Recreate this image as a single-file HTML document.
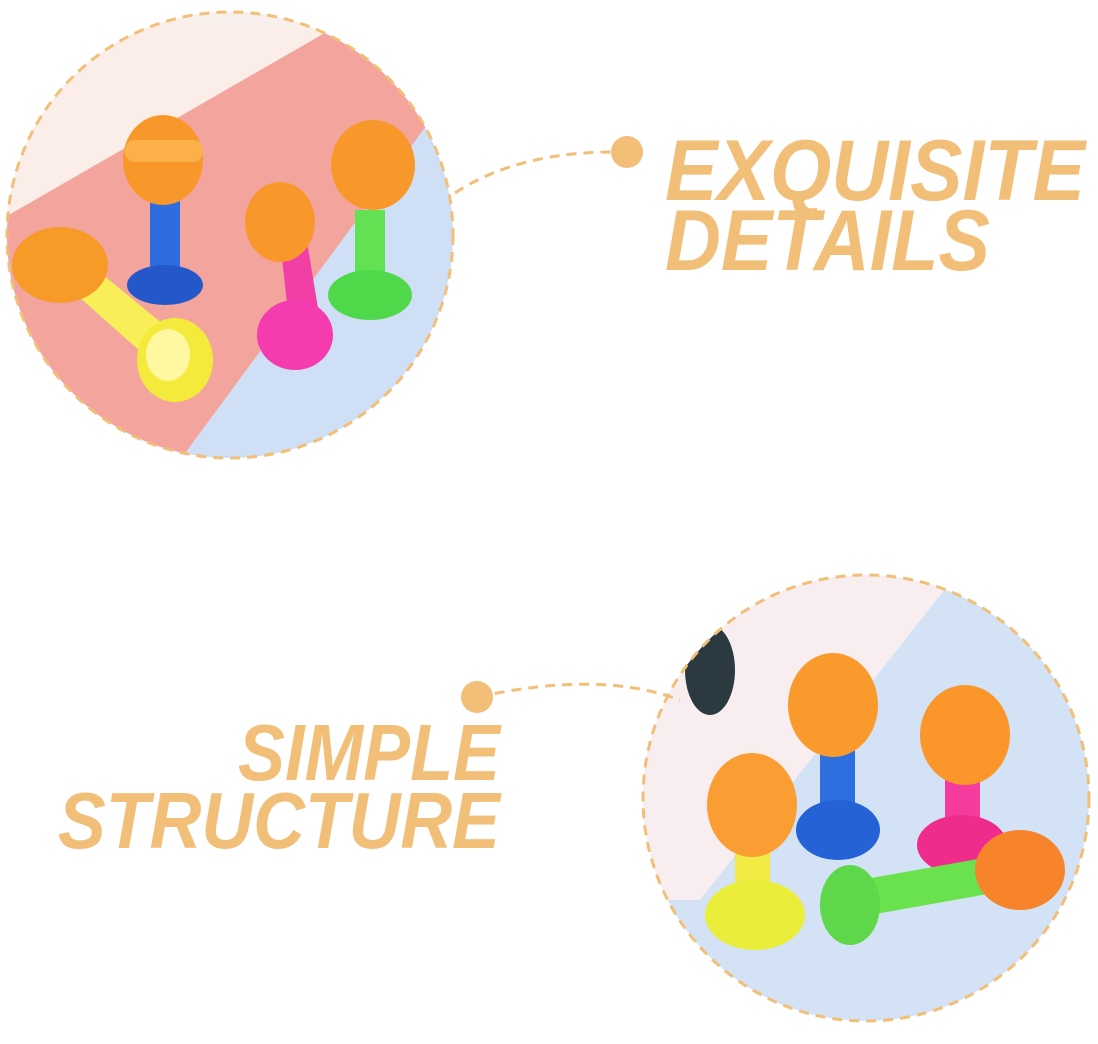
<!DOCTYPE html>
<html><head><style>html,body{margin:0;padding:0;background:#fff;width:1098px;height:1044px;overflow:hidden}</style></head>
<body>
<svg width="1098" height="1044" viewBox="0 0 1098 1044" xmlns="http://www.w3.org/2000/svg">
<defs>
<clipPath id="c1"><circle cx="230" cy="235" r="223"/></clipPath>
<clipPath id="c2"><circle cx="866" cy="798" r="223"/></clipPath>
</defs>
<!-- circle 1 -->
<g clip-path="url(#c1)">
<rect x="0" y="0" width="460" height="460" fill="#cfe0f6"/>
<polygon points="0,0 340,0 460,80 180,460 0,460" fill="#f3a49c"/>
<polygon points="0,40 300,0 330,30 0,220" fill="#fbeee8"/>
<polygon points="0,0 330,0 330,30 0,10" fill="#f7f0ec"/>
<!-- yellow toy -->
<polygon points="60,280 85,260 170,330 150,360" fill="#f8ef58"/>
<ellipse cx="175" cy="360" rx="38" ry="42" fill="#f4ea3c"/>
<ellipse cx="168" cy="355" rx="22" ry="26" fill="#fff8a0"/>
<ellipse cx="60" cy="265" rx="48" ry="38" fill="#f79a28"/>
<!-- blue toy -->
<rect x="150" y="195" width="30" height="80" fill="#2d6de0"/>
<ellipse cx="165" cy="285" rx="38" ry="20" fill="#2458c8"/>
<ellipse cx="163" cy="160" rx="40" ry="45" fill="#f9982a"/>
<rect x="125" y="140" width="78" height="22" rx="10" fill="#fbb04a"/>
<!-- pink toy -->
<polygon points="280,240 305,230 320,320 290,330" fill="#f23fa6"/>
<ellipse cx="295" cy="335" rx="38" ry="35" fill="#f53cae"/>
<ellipse cx="280" cy="222" rx="35" ry="40" fill="#f8972a"/>
<!-- green toy -->
<rect x="355" y="210" width="30" height="70" fill="#62e252"/>
<ellipse cx="370" cy="295" rx="42" ry="25" fill="#4fd94a"/>
<ellipse cx="373" cy="165" rx="42" ry="45" fill="#f9982a"/>
</g>
<circle cx="230" cy="235" r="223" fill="none" stroke="#f2bf78" stroke-width="3" stroke-dasharray="10 7"/>
<!-- circle 2 -->
<g clip-path="url(#c2)">
<rect x="630" y="570" width="480" height="460" fill="#d3e2f5"/>
<polygon points="630,570 960,570 700,900 630,900" fill="#f8eef0"/>
<ellipse cx="710" cy="670" rx="25" ry="45" fill="#2a3a40"/>
<!-- blue -->
<rect x="820" y="740" width="35" height="90" fill="#2e6fe0"/>
<ellipse cx="838" cy="830" rx="42" ry="30" fill="#2462d6"/>
<ellipse cx="833" cy="705" rx="45" ry="52" fill="#fa9a2c"/>
<!-- pink -->
<rect x="945" y="770" width="35" height="80" fill="#f53c9e"/>
<ellipse cx="962" cy="845" rx="45" ry="30" fill="#ef2c8c"/>
<ellipse cx="965" cy="735" rx="45" ry="50" fill="#fa962a"/>
<!-- yellow -->
<rect x="735" y="850" width="35" height="60" fill="#f1ea45"/>
<ellipse cx="755" cy="915" rx="50" ry="35" fill="#eaee3a"/>
<ellipse cx="752" cy="805" rx="45" ry="52" fill="#fa9e34"/>
<!-- green -->
<polygon points="860,880 1000,855 1010,890 870,915" fill="#6ae24e"/>
<ellipse cx="850" cy="905" rx="30" ry="40" fill="#5ed84a"/>
<ellipse cx="1020" cy="870" rx="45" ry="40" fill="#f7842a"/>
</g>
<circle cx="866" cy="798" r="223" fill="none" stroke="#f2bf78" stroke-width="3" stroke-dasharray="10 7"/>
<!-- connectors -->
<path d="M455,193 Q520,150 625,152" fill="none" stroke="#f2bf78" stroke-width="3" stroke-dasharray="10 7"/>
<circle cx="627" cy="152" r="16" fill="#f2bf78"/>
<path d="M478,697 Q600,670 680,700" fill="none" stroke="#f2bf78" stroke-width="3" stroke-dasharray="10 7"/>
<circle cx="477" cy="697" r="16" fill="#f2bf78"/>
<!-- text -->
<g font-family="Liberation Sans, sans-serif" font-weight="bold" font-style="italic" fill="#f2bf78">
<text x="665" y="200" font-size="86" textLength="420" lengthAdjust="spacingAndGlyphs">EXQUISITE</text>
<text x="665" y="270" font-size="86" textLength="325" lengthAdjust="spacingAndGlyphs">DETAILS</text>
<text x="238" y="780" font-size="80" textLength="262" lengthAdjust="spacingAndGlyphs">SIMPLE</text>
<text x="58" y="848" font-size="80" textLength="442" lengthAdjust="spacingAndGlyphs">STRUCTURE</text>
</g>
</svg>
</body></html>
